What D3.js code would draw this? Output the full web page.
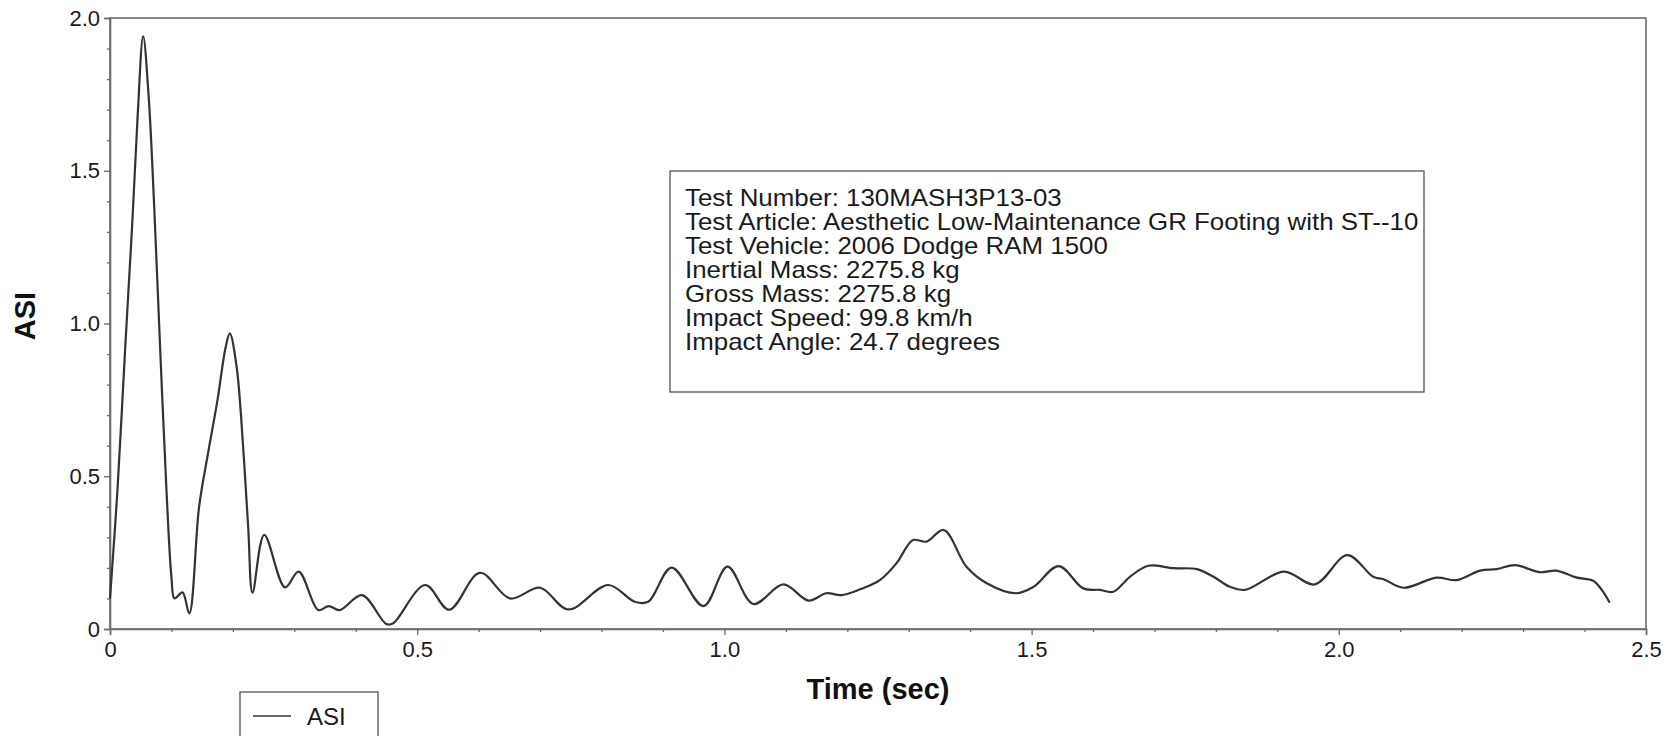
<!DOCTYPE html>
<html>
<head>
<meta charset="utf-8">
<script src="https://cdn.jsdelivr.net/npm/d3@7"></script>
<style>
  html, body { margin: 0; padding: 0; background: #fff; }
  svg { display: block; font-family: "Liberation Sans", Arial, Helvetica, sans-serif; }
</style>
</head>
<body>
<svg id="chart" width="1675" height="736"></svg>
<script>
// ---- data ----
const time = [0, 0.012, 0.025, 0.036, 0.045, 0.054, 0.063, 0.072, 0.082, 0.092, 0.100, 0.105, 0.118, 0.129, 0.145, 0.160, 0.175, 0.188, 0.195, 0.206, 0.217, 0.225, 0.232, 0.251, 0.285, 0.307, 0.339, 0.356, 0.374, 0.410, 0.450, 0.461, 0.513, 0.552, 0.602, 0.651, 0.700, 0.746, 0.811, 0.854, 0.876, 0.914, 0.966, 1.005, 1.047, 1.096, 1.137, 1.166, 1.190, 1.221, 1.253, 1.280, 1.307, 1.329, 1.357, 1.394, 1.427, 1.475, 1.503, 1.544, 1.584, 1.611, 1.633, 1.660, 1.690, 1.731, 1.769, 1.796, 1.823, 1.847, 1.911, 1.961, 2.014, 2.056, 2.073, 2.105, 2.159, 2.192, 2.230, 2.257, 2.287, 2.327, 2.354, 2.386, 2.414, 2.428, 2.441];
const asi  = [0.10, 0.45, 0.93, 1.32, 1.68, 1.94, 1.74, 1.38, 0.90, 0.45, 0.17, 0.10, 0.12, 0.051, 0.40, 0.58, 0.75, 0.92, 0.968, 0.86, 0.586, 0.33, 0.119, 0.308, 0.136, 0.188, 0.062, 0.075, 0.062, 0.111, 0.016, 0.019, 0.144, 0.063, 0.184, 0.10, 0.135, 0.064, 0.144, 0.089, 0.089, 0.201, 0.075, 0.204, 0.082, 0.146, 0.093, 0.117, 0.111, 0.13, 0.16, 0.215, 0.291, 0.286, 0.324, 0.204, 0.15, 0.117, 0.138, 0.206, 0.133, 0.128, 0.122, 0.171, 0.207, 0.199, 0.196, 0.171, 0.138, 0.128, 0.188, 0.146, 0.242, 0.171, 0.163, 0.135, 0.168, 0.16, 0.191, 0.196, 0.209, 0.186, 0.191, 0.169, 0.158, 0.128, 0.086];
const xTicks = [0, 0.5, 1.0, 1.5, 2.0, 2.5];
const xTickLabels = ["0", "0.5", "1.0", "1.5", "2.0", "2.5"];
const yTicks = [0, 0.5, 1.0, 1.5, 2.0];
const yTickLabels = ["0", "0.5", "1.0", "1.5", "2.0"];
const infoLines = [
  "Test Number: 130MASH3P13-03",
  "Test Article: Aesthetic Low-Maintenance GR Footing with ST--10",
  "Test Vehicle: 2006 Dodge RAM 1500",
  "Inertial Mass: 2275.8 kg",
  "Gross Mass: 2275.8 kg",
  "Impact Speed: 99.8 km/h",
  "Impact Angle: 24.7 degrees"
];
const seriesName = "ASI";
const xTitle = "Time (sec)";
const yTitle = "ASI";

// ---- layout ----
const L = 110, R = 1646, T = 18, B = 629;
const svg = d3.select("#chart");
const x = d3.scaleLinear().domain([0, 2.5]).range([L, R]);
const y = d3.scaleLinear().domain([0, 2.0]).range([B, T]);
const frameColor = "#6a6a6a";
const textColor = "#1a1a1a";

// frame
svg.append("rect").attr("x", L).attr("y", T).attr("width", R - L).attr("height", B - T)
  .attr("fill", "none").attr("stroke", frameColor).attr("stroke-width", 1.6);

// minor ticks
const xMinor = d3.range(0, 2.5001, 0.1).filter(v => Math.abs(v * 2 - Math.round(v * 2)) > 1e-6);
const yMinor = d3.range(0, 2.0001, 0.1).filter(v => Math.abs(v * 2 - Math.round(v * 2)) > 1e-6);

// x axis
const xAxis = d3.axisBottom(x).tickValues(xTicks).tickFormat((d, i) => xTickLabels[i]).tickSize(6).tickPadding(6);
const gx = svg.append("g").attr("transform", `translate(0,${B})`).call(xAxis);
gx.select(".domain").attr("stroke", frameColor).attr("stroke-width", 1.6);
gx.selectAll(".tick line").attr("stroke", frameColor).attr("stroke-width", 1.3);
gx.selectAll(".tick text").attr("font-size", 22).attr("fill", textColor).attr("font-family", "Liberation Sans, Arial, sans-serif");
const gxm = svg.append("g").attr("transform", `translate(0,${B})`)
  .call(d3.axisBottom(x).tickValues(xMinor).tickFormat("").tickSize(3));
gxm.select(".domain").remove();
gxm.selectAll(".tick line").attr("stroke", frameColor).attr("stroke-width", 1.3);

// y axis
const yAxis = d3.axisLeft(y).tickValues(yTicks).tickFormat((d, i) => yTickLabels[i]).tickSize(6).tickPadding(4);
const gy = svg.append("g").attr("transform", `translate(${L},0)`).call(yAxis);
gy.select(".domain").attr("stroke", frameColor).attr("stroke-width", 1.6);
gy.selectAll(".tick line").attr("stroke", frameColor).attr("stroke-width", 1.3);
gy.selectAll(".tick text").attr("font-size", 22).attr("fill", textColor).attr("font-family", "Liberation Sans, Arial, sans-serif");
const gym = svg.append("g").attr("transform", `translate(${L},0)`)
  .call(d3.axisLeft(y).tickValues(yMinor).tickFormat("").tickSize(3));
gym.select(".domain").remove();
gym.selectAll(".tick line").attr("stroke", frameColor).attr("stroke-width", 1.3);

// line
const pts = time.map((t, i) => [t, asi[i]]);
const line = d3.line().x(d => x(d[0])).y(d => y(d[1])).curve(d3.curveCatmullRom.alpha(0.5));
svg.append("path").datum(pts).attr("d", line)
  .attr("fill", "none").attr("stroke", "#333").attr("stroke-width", 2.2).attr("stroke-linejoin", "round");

// axis titles
svg.append("text").attr("x", 878).attr("y", 699).attr("text-anchor", "middle")
  .attr("font-size", 29).attr("font-weight", "bold").attr("fill", "#111").text(xTitle);
svg.append("text").attr("transform", "translate(35,316) rotate(-90)").attr("text-anchor", "middle")
  .attr("font-size", 29).attr("font-weight", "bold").attr("fill", "#111").text(yTitle);

// info box
const box = svg.append("g");
box.append("rect").attr("x", 670).attr("y", 171).attr("width", 754).attr("height", 221)
  .attr("fill", "#fff").attr("stroke", "#555").attr("stroke-width", 1.3);
const tg = box.append("g");
const texts = tg.selectAll("text.info").data(infoLines).join("text").attr("class", "info")
  .attr("x", 0).attr("y", (d, i) => 206 + i * 24).attr("font-size", 23).attr("fill", textColor).text(d => d);
// condense horizontally so the longest line spans the measured width
const longest = d3.max(texts.nodes(), n => n.getComputedTextLength());
const sx = 734 / longest;
tg.attr("transform", `translate(685,0) scale(${sx},1)`);

// legend
const lg = svg.append("g");
lg.append("rect").attr("x", 240).attr("y", 692).attr("width", 138).attr("height", 60)
  .attr("fill", "#fff").attr("stroke", "#555").attr("stroke-width", 1.3);
lg.append("line").attr("x1", 253).attr("x2", 291).attr("y1", 716).attr("y2", 716)
  .attr("stroke", "#333").attr("stroke-width", 1.6);
lg.append("text").attr("x", 307).attr("y", 725).attr("font-size", 24).attr("fill", textColor).text(seriesName);
</script>
</body>
</html>
